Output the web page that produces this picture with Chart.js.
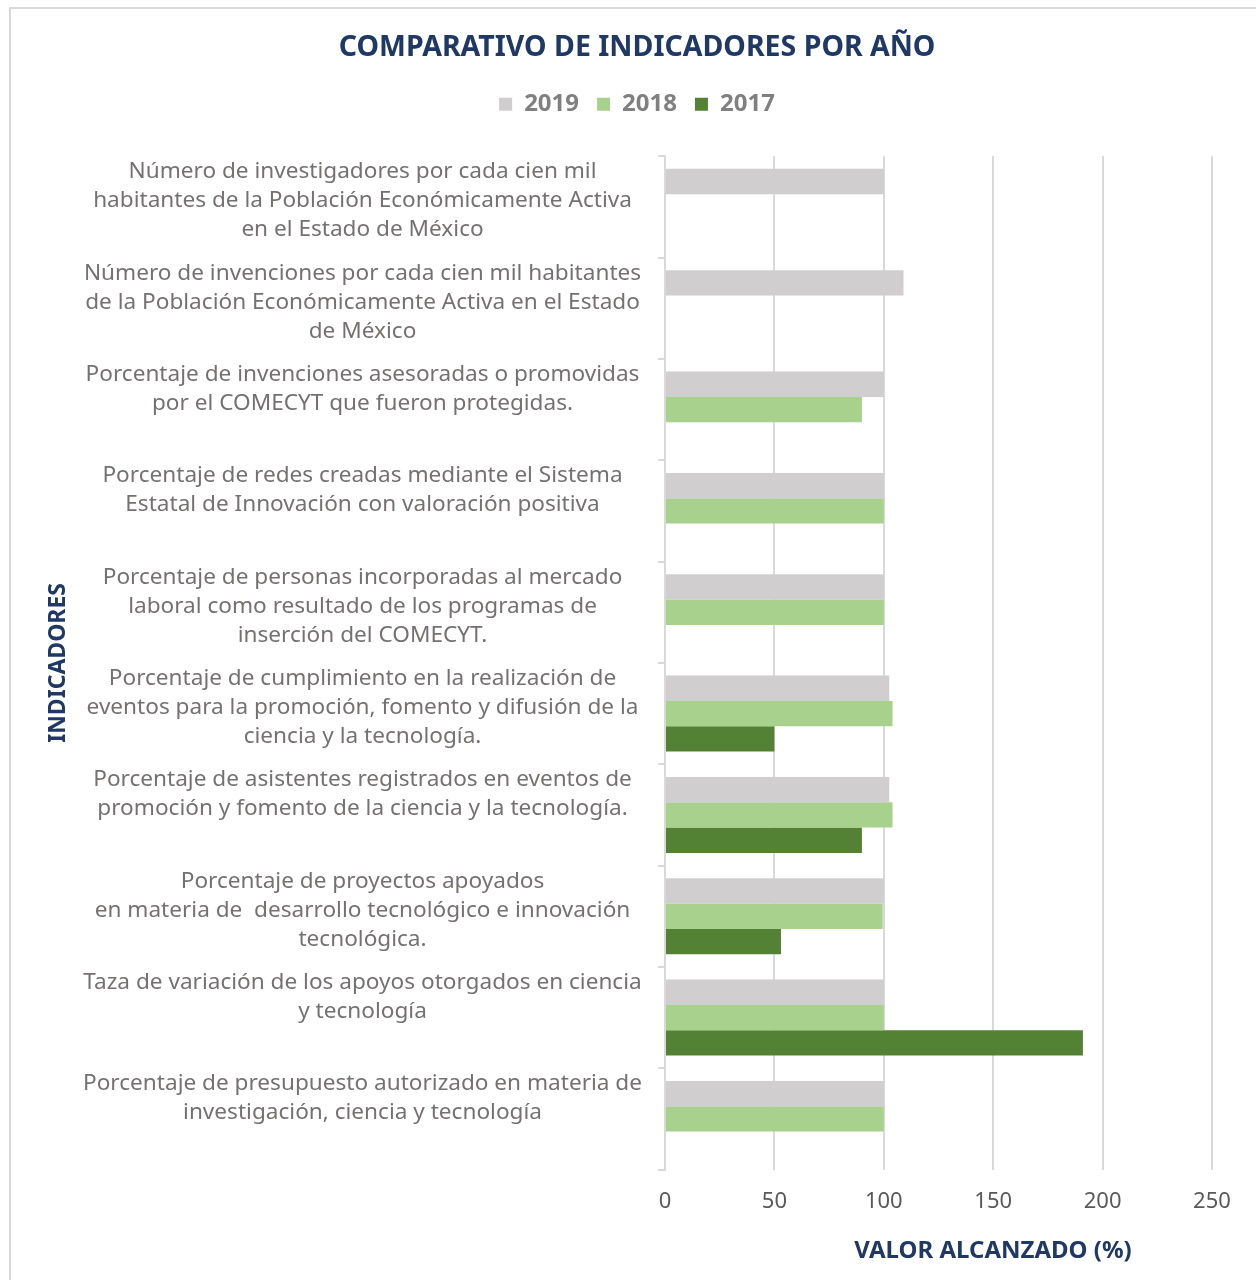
<!DOCTYPE html>
<html>
<head>
<meta charset="utf-8">
<script src="https://cdn.jsdelivr.net/npm/chart.js@4.4.1/dist/chart.umd.min.js"></script>
<style>
  html, body { margin: 0; padding: 0; background: #ffffff; }
  #frame { position: absolute; left: 9px; top: 7px; width: 1260px; height: 1290px;
           border-left: 2px solid #d9d9d9; border-top: 2px solid #d9d9d9; }
  #wrap { position: absolute; left: 0; top: 0; width: 1256px; height: 1280px; }
</style>
</head>
<body>
<div id="frame"></div>
<div id="wrap"><canvas id="c" width="1256" height="1280"></canvas></div>
<script>
const indicadores = [
  ["Número de investigadores por cada cien mil", "habitantes de la Población Económicamente Activa", "en el Estado de México"],
  ["Número de invenciones por cada cien mil habitantes", "de la Población Económicamente Activa en el Estado", "de México"],
  ["Porcentaje de invenciones asesoradas o promovidas", "por el COMECYT que fueron protegidas.", ""],
  ["Porcentaje de redes creadas mediante el Sistema", "Estatal de Innovación con valoración positiva", ""],
  ["Porcentaje de personas incorporadas al mercado", "laboral como resultado de los programas de", "inserción del COMECYT."],
  ["Porcentaje de cumplimiento en la realización de", "eventos para la promoción, fomento y difusión de la", "ciencia y la tecnología."],
  ["Porcentaje de asistentes registrados en eventos de", "promoción y fomento de la ciencia y la tecnología.", ""],
  ["Porcentaje de proyectos apoyados", "en materia de  desarrollo tecnológico e innovación", "tecnológica."],
  ["Taza de variación de los apoyos otorgados en ciencia", "y tecnología", ""],
  ["Porcentaje de presupuesto autorizado en materia de", "investigación, ciencia y tecnología", ""]
];
const valores2019 = [100, 109, 100, 100, 100, 102.5, 102.5, 100, 100, 100];
const valores2018 = [null, null, 90, 100, 100, 104, 104, 99.5, 100, 100];
const valores2017 = [null, null, null, null, null, 50, 90, 53, 191, null];
const ticksX = [0, 50, 100, 150, 200, 250];

const NAVY = '#203864';
const GRID = '#d9d9d9';

const axisTitlesPlugin = {
  id: 'axisTitles',
  afterDraw(chart) {
    const ctx = chart.ctx;
    const area = chart.chartArea;
    ctx.save();
    ctx.fillStyle = NAVY;
    ctx.textAlign = 'center';
    ctx.textBaseline = 'middle';
    ctx.font = 'bold 24px "Noto Sans"';
    ctx.fillText('VALOR ALCANZADO (%)', 993, 1251);
    ctx.translate(58, (area.top + area.bottom) / 2);
    ctx.rotate(-Math.PI / 2);
    ctx.font = 'bold 23px "Noto Sans"';
    ctx.fillText('INDICADORES', 0, 0);
    ctx.restore();
  }
};

new Chart(document.getElementById('c'), {
  type: 'bar',
  data: {
    labels: indicadores,
    datasets: [
      { label: '2019', data: valores2019, backgroundColor: '#d0cece' },
      { label: '2018', data: valores2018, backgroundColor: '#a9d18e' },
      { label: '2017', data: valores2017, backgroundColor: '#548235' }
    ]
  },
  options: {
    indexAxis: 'y',
    responsive: false,
    animation: false,
    devicePixelRatio: 1,
    categoryPercentage: 0.75,
    barPercentage: 1.0,
    layout: { padding: { top: 23, right: 44, bottom: 46, left: 62 } },
    plugins: {
      title: {
        display: true,
        text: 'COMPARATIVO DE INDICADORES POR AÑO',
        color: NAVY,
        font: { family: '"Noto Sans"', size: 28.5, weight: 'bold', lineHeight: 1.2 },
        padding: { top: 8, bottom: 9 }
      },
      legend: {
        display: true,
        position: 'top',
        labels: {
          color: '#808080',
          font: { family: '"Noto Sans"', size: 24, weight: 'bold' },
          boxWidth: 13,
          boxHeight: 13,
          padding: 18
        }
      },
      tooltip: { enabled: false }
    },
    scales: {
      x: {
        min: 0,
        max: 250,
        afterBuildTicks(scale) { scale.ticks = ticksX.map(v => ({ value: v })); },
        grid: { color: GRID, lineWidth: 2, drawTicks: false },
        border: { display: false },
        ticks: {
          color: '#595959',
          font: { family: '"Noto Sans"', size: 22 },
          padding: 19
        }
      },
      xTop: {
        type: 'linear',
        axis: 'x',
        position: 'top',
        display: true,
        min: 0,
        max: 250,
        grid: { display: false, drawTicks: false },
        border: { display: false },
        ticks: { display: false },
        afterFit(scale) { scale.height = 30; }
      },
      y: {
        afterFit(scale) { scale.width = 603; },
        grid: { offset: true, drawOnChartArea: false, drawTicks: true, tickLength: 7, color: GRID, lineWidth: 2 },
        border: { display: true, color: GRID, width: 2 },
        ticks: {
          color: '#767171',
          font: { family: '"Noto Sans"', size: 22.6, lineHeight: 1.28 },
          crossAlign: 'center',
          padding: 16,
          labelOffset: -6,
          autoSkip: false
        }
      }
    }
  },
  plugins: [axisTitlesPlugin]
});
</script>
</body>
</html>
